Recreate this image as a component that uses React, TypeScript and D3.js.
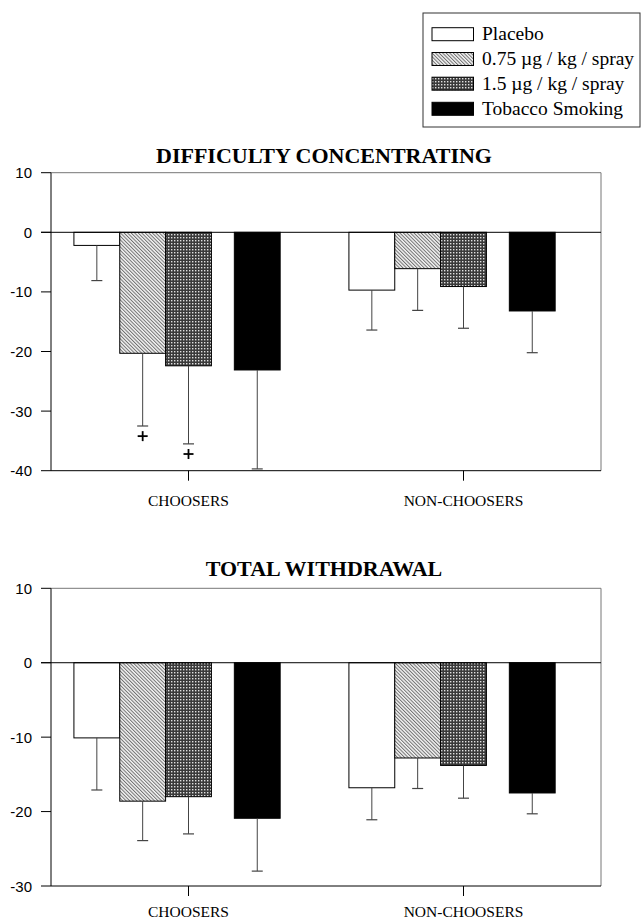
import React from "react";
import * as d3 from "d3";

// ---- data ----
const groups = ["CHOOSERS", "NON-CHOOSERS"];
const seriesNames = ["Placebo", "0.75 µg / kg / spray", "1.5 µg / kg / spray", "Tobacco Smoking"];

const diffMeansChoosers = [-2.2, -20.3, -22.4, -23.1];
const diffErrChoosers = [5.9, 12.2, 13.1, 16.6];
const diffMeansNon = [-9.7, -6.1, -9.1, -13.2];
const diffErrNon = [6.7, 7.0, 7.0, 7.0];

const totalMeansChoosers = [-10.1, -18.6, -18.0, -20.9];
const totalErrChoosers = [7.0, 5.3, 5.0, 7.1];
const totalMeansNon = [-16.8, -12.8, -13.8, -17.5];
const totalErrNon = [4.3, 4.1, 4.4, 2.8];

const diffTicks = [10, 0, -10, -20, -30, -40];
const totalTicks = [10, 0, -10, -20, -30];

// significance markers: group index, series index, y value
const diffMarkers = [
  { group: 0, series: 1, value: -34.2 },
  { group: 0, series: 2, value: -37.2 },
];

// ---- layout ----
const W = 642;
const H = 919;
const left = 51;
const right = 601;
const slotPos = [0.5, 1.5, 2.5, 4]; // bar positions within a 6-slot group

const fills = ["#ffffff", "url(#hatchLight)", "url(#dotDark)", "#000000"];

type PanelProps = {
  title: string;
  titleY: number;
  top: number;
  bottom: number;
  domain: [number, number];
  ticks: number[];
  means: number[][];
  errs: number[][];
  labelY: number;
  markers?: { group: number; series: number; value: number }[];
};

function Panel(p: PanelProps) {
  const y = d3.scaleLinear().domain(p.domain).range([p.top, p.bottom]);
  const xg = d3.scaleBand<string>().domain(groups).range([left, right]).padding(0);
  const bw = xg.bandwidth();
  const slot = (gi: number) =>
    d3.scaleLinear().domain([0, 6]).range([xg(groups[gi])!, xg(groups[gi])! + bw]);
  const barW = bw / 6;
  const y0 = y(0);
  return (
    <g>
      <text
        x={(left + right) / 2 - 2}
        y={p.titleY}
        textAnchor="middle"
        fontFamily="'Liberation Serif', 'Times New Roman', serif"
        fontWeight="bold"
        fontSize={22}
        fill="#000"
      >
        {p.title}
      </text>
      {/* frame top/right */}
      <line x1={left} x2={right} y1={p.top} y2={p.top} stroke="#777" strokeWidth={1} />
      <line x1={right} x2={right} y1={p.top} y2={p.bottom} stroke="#777" strokeWidth={1} />
      {/* bars */}
      {p.means.map((row, gi) =>
        row.map((v, si) => {
          const sx = slot(gi);
          const x0 = sx(slotPos[si]);
          const yv = y(v);
          return (
            <rect
              key={`b${gi}-${si}`}
              x={x0}
              y={Math.min(y0, yv)}
              width={barW}
              height={Math.abs(yv - y0)}
              fill={fills[si]}
              stroke="#000"
              strokeWidth={1}
            />
          );
        })
      )}
      {/* error bars */}
      {p.means.map((row, gi) =>
        row.map((v, si) => {
          const sx = slot(gi);
          const cx = sx(slotPos[si] + 0.5);
          const e = p.errs[gi][si];
          const ye = y(v - e);
          return (
            <g key={`e${gi}-${si}`}>
              <line x1={cx} x2={cx} y1={y(v)} y2={ye} stroke="#444" strokeWidth={1} />
              <line x1={cx - 5.5} x2={cx + 5.5} y1={ye} y2={ye} stroke="#444" strokeWidth={1.2} />
            </g>
          );
        })
      )}
      {/* markers */}
      {(p.markers || []).map((m, i) => {
        const cx = slot(m.group)(slotPos[m.series] + 0.5);
        const cy = y(m.value);
        return (
          <g key={`m${i}`} stroke="#000" strokeWidth={1.8}>
            <line x1={cx - 5} x2={cx + 5} y1={cy} y2={cy} />
            <line x1={cx} x2={cx} y1={cy - 5} y2={cy + 5} />
          </g>
        );
      })}
      {/* zero line */}
      <line x1={left - 10} x2={right} y1={y0} y2={y0} stroke="#000" strokeWidth={1} />
      {/* y axis */}
      <line x1={left} x2={left} y1={p.top} y2={p.bottom} stroke="#000" strokeWidth={1} />
      {p.ticks.map((t) => (
        <g key={`t${t}`}>
          <line x1={left - 10} x2={left} y1={y(t)} y2={y(t)} stroke="#000" strokeWidth={1} />
          <text
            x={32}
            y={y(t)}
            textAnchor="end"
            dominantBaseline="central"
            fontFamily="'Liberation Sans', Arial, sans-serif"
            fontSize={15}
            fill="#000"
          >
            {t}
          </text>
        </g>
      ))}
      {/* x axis */}
      <line x1={left} x2={right} y1={p.bottom} y2={p.bottom} stroke="#000" strokeWidth={1} />
      {groups.map((g) => {
        const cx = xg(g)! + bw / 2;
        return (
          <g key={g}>
            <line x1={cx} x2={cx} y1={p.bottom} y2={p.bottom + 10} stroke="#000" strokeWidth={1} />
            <text
              x={cx}
              y={p.labelY}
              textAnchor="middle"
              fontFamily="'Liberation Serif', 'Times New Roman', serif"
              fontSize={15.5}
              fill="#000"
            >
              {g}
            </text>
          </g>
        );
      })}
    </g>
  );
}

function Legend() {
  const x0 = 423;
  const yTop = 13;
  const rows = [34.2, 59, 83.7, 108.8];
  return (
    <g>
      <rect x={x0} y={yTop} width={217} height={114} fill="#fff" stroke="#333" strokeWidth={1} />
      {seriesNames.map((s, i) => (
        <g key={s}>
          <rect x={432} y={rows[i] - 6.5} width={41.5} height={13} fill={fills[i]} stroke="#000" strokeWidth={1} />
          <text
            x={482}
            y={rows[i] + 6}
            fontFamily="'Liberation Serif', 'Times New Roman', serif"
            fontSize={19.5}
            fill="#000"
          >
            {s}
          </text>
        </g>
      ))}
    </g>
  );
}

export default function App() {
  return (
    <svg
      width={W}
      height={H}
      viewBox={`0 0 ${W} ${H}`}
      style={{ position: "absolute", left: 0, top: 0, background: "#fff" }}
    >
      <defs>
        <pattern id="hatchLight" width={2.5} height={2.5} patternUnits="userSpaceOnUse" patternTransform="rotate(-45)">
          <rect width={2.5} height={2.5} fill="#f4f4f4" />
          <line x1={0.5} y1={0} x2={0.5} y2={2.5} stroke="#707070" strokeWidth={1} />
        </pattern>
        <pattern id="dotDark" width={3} height={3} patternUnits="userSpaceOnUse">
          <rect width={3} height={3} fill="#3a3a3a" />
          <rect x={0} y={0} width={1.4} height={1.4} fill="#e0e0e0" />
        </pattern>
      </defs>
      <rect x={0} y={0} width={W} height={H} fill="#fff" />
      <Legend />
      <Panel
        title="DIFFICULTY CONCENTRATING"
        titleY={162.5}
        top={172.7}
        bottom={470.7}
        domain={[10, -40]}
        ticks={diffTicks}
        means={[diffMeansChoosers, diffMeansNon]}
        errs={[diffErrChoosers, diffErrNon]}
        labelY={506}
        markers={diffMarkers}
      />
      <Panel
        title="TOTAL WITHDRAWAL"
        titleY={576}
        top={588.3}
        bottom={886}
        domain={[10, -30]}
        ticks={totalTicks}
        means={[totalMeansChoosers, totalMeansNon]}
        errs={[totalErrChoosers, totalErrNon]}
        labelY={917}
      />
    </svg>
  );
}
